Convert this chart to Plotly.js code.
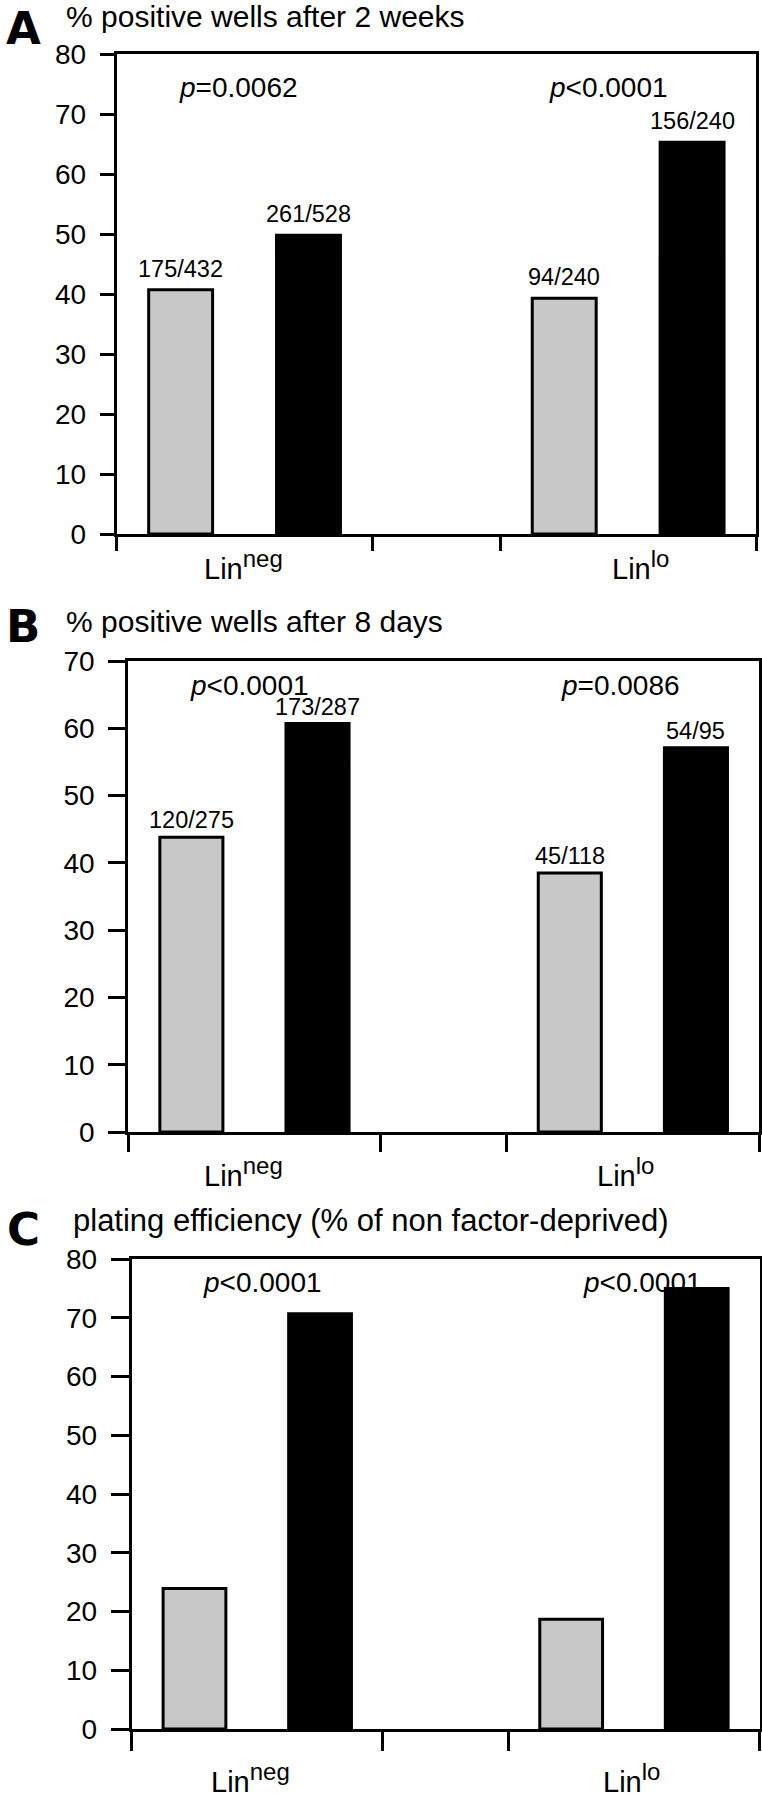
<!DOCTYPE html>
<html><head><meta charset="utf-8">
<script src="https://cdn.plot.ly/plotly-3.0.1.min.js"></script>
<style>html,body{margin:0;padding:0;background:#fff}#chart{width:762px;height:1800px}</style>
</head><body><div id="chart"></div>
<script>
// ---- data ----
const groups = ['Lin<sup><span style="font-size:24px">neg</span></sup>', 'Lin<sup><span style="font-size:24px">lo</span></sup>'];

const titleA = '% positive wells after 2 weeks';
const grayA = [40.7, 39.3];
const blackA = [49.8, 65.3];
const grayLabelsA = ['175/432', '94/240'];
const blackLabelsA = ['261/528', '156/240'];
const pA = ['<i>p</i>=0.0062', '<i>p</i>&lt;0.0001'];

const titleB = '% positive wells after 8 days';
const grayB = [43.8, 38.5];
const blackB = [60.7, 57.1];
const grayLabelsB = ['120/275', '45/118'];
const blackLabelsB = ['173/287', '54/95'];
const pB = ['<i>p</i>&lt;0.0001', '<i>p</i>=0.0086'];

const titleC = 'plating efficiency (% of non factor-deprived)';
const grayC = [23.9, 18.7];
const blackC = [70.7, 75.0];
const grayLabelsC = ['', ''];
const blackLabelsC = ['', ''];
const pC = ['<i>p</i>&lt;0.0001', '<i>p</i>&lt;0.0001'];

// ---- layout helpers ----
const W = 762, H = 1800;
const FONT = 'Liberation Sans, Arial, Helvetica, sans-serif';
const LETTER_FONT = 'DejaVu Sans, Liberation Sans, Arial, sans-serif';
const px2x = v => v / W;
const px2y = v => 1 - v / H;

const panels = [
  {letter:'A', title:titleA, gray:grayA, black:blackA, gl:grayLabelsA, bl:blackLabelsA, p:pA,
   left:116.7, right:756, top:54, bottom:534, ymax:80, ytl:14, xtl:14,
   letterY:29, titleX:64, titleY:16.5, titleSize:30, labGap:6,
   pPos:[[0.45,74.5],[3.35,74.5]], linX:[0.49,3.6], linShift:31},
  {letter:'B', title:titleB, gray:grayB, black:blackB, gl:grayLabelsB, bl:blackLabelsB, p:pB,
   left:128.3, right:759, top:661, bottom:1132, ymax:70, ytl:17, xtl:17,
   letterY:626.5, titleX:64, titleY:621.5, titleSize:30, labGap:2,
   pPos:[[0.46,66.4],[3.4,66.4]], linX:[0.41,3.44], linShift:40},
  {letter:'C', title:titleC, gray:grayC, black:blackC, gl:grayLabelsC, bl:blackLabelsC, p:pC,
   left:131.7, right:759.5, top:1259, bottom:1729, ymax:80, ytl:18, xtl:19,
   letterY:1229, titleX:71, titleY:1220.5, titleSize:31, labGap:2,
   pPos:[[0.54,76],[3.57,76]], linX:[0.45,3.48], linShift:49}
];

const data = [];
const layout = {
  width: W, height: H, margin:{l:0,r:0,t:0,b:0,pad:0},
  paper_bgcolor:'#fff', plot_bgcolor:'#fff', showlegend:false,
  barmode:'overlay', font:{family:FONT, color:'#000'},
  annotations: []
};

panels.forEach((P, i) => {
  const n = i === 0 ? '' : String(i + 1);
  const xa = 'x' + n, ya = 'y' + n;
  const gx = groups.map((_, g) => 3 * g);
  const bx = groups.map((_, g) => 3 * g + 1);
  data.push({type:'bar', x:gx, y:P.gray, xaxis:xa, yaxis:ya, width:0.5,
    marker:{color:'#c8c8c8', line:{color:'#000', width:3}}, hoverinfo:'skip'});
  data.push({type:'bar', x:bx, y:P.black, xaxis:xa, yaxis:ya, width:0.5,
    marker:{color:'#000', line:{color:'#000', width:3}}, hoverinfo:'skip'});

  layout['xaxis' + n] = {
    domain:[px2x(P.left), px2x(P.right)], anchor:ya, range:[-0.5, 4.5],
    tickmode:'array', tickvals:[-0.5, 1.5, 2.5, 4.5], showticklabels:false,
    ticks:'outside', ticklen:P.xtl, tickwidth:3, tickcolor:'#000',
    showline:true, linewidth:3, linecolor:'#000', mirror:true,
    showgrid:false, zeroline:false, fixedrange:true
  };
  layout['yaxis' + n] = {
    domain:[px2y(P.bottom), px2y(P.top)], anchor:xa, range:[0, P.ymax],
    tickmode:'linear', tick0:0, dtick:10,
    ticks:'outside', ticklen:P.ytl, tickwidth:3, tickcolor:'#000',
    tickfont:{size:28, family:FONT, color:'#000'}, ticklabelstandoff:8,
    showline:true, linewidth:3, linecolor:'#000', mirror:true,
    showgrid:false, zeroline:false, fixedrange:true
  };

  const A = layout.annotations;
  A.push({xref:'paper', yref:'paper', x:px2x(23), y:px2y(P.letterY), xanchor:'center', yanchor:'middle',
    text:'<b>' + P.letter + '</b>', showarrow:false, font:{size:45, family:LETTER_FONT, color:'#000'}});
  A.push({xref:'paper', yref:'paper', x:px2x(P.titleX), y:px2y(P.titleY), xanchor:'left', yanchor:'middle',
    text:P.title, showarrow:false, font:{size:P.titleSize, family:FONT, color:'#000'}});
  P.p.forEach((t, g) => A.push({xref:xa, yref:ya, x:P.pPos[g][0], y:P.pPos[g][1],
    xanchor:'center', yanchor:'middle', text:t, showarrow:false, font:{size:28, family:FONT, color:'#000'}}));
  groups.forEach((lab, g) => {
    if (P.gl[g]) A.push({xref:xa, yref:ya, x:gx[g], y:P.gray[g], xanchor:'center', yanchor:'bottom', yshift:P.labGap,
      text:P.gl[g], showarrow:false, font:{size:23.5, family:FONT, color:'#000'}});
    if (P.bl[g]) A.push({xref:xa, yref:ya, x:bx[g], y:P.black[g], xanchor:'center', yanchor:'bottom', yshift:P.labGap,
      text:P.bl[g], showarrow:false, font:{size:23.5, family:FONT, color:'#000'}});
    A.push({xref:xa, yref:'paper', x:P.linX[g], y:px2y(P.bottom), xanchor:'center', yanchor:'middle', yshift:-P.linShift,
      text:lab, showarrow:false, font:{size:29, family:FONT, color:'#000'}});
  });
});

Plotly.newPlot('chart', data, layout, {displayModeBar:false, staticPlot:true});
</script>
</body></html>
